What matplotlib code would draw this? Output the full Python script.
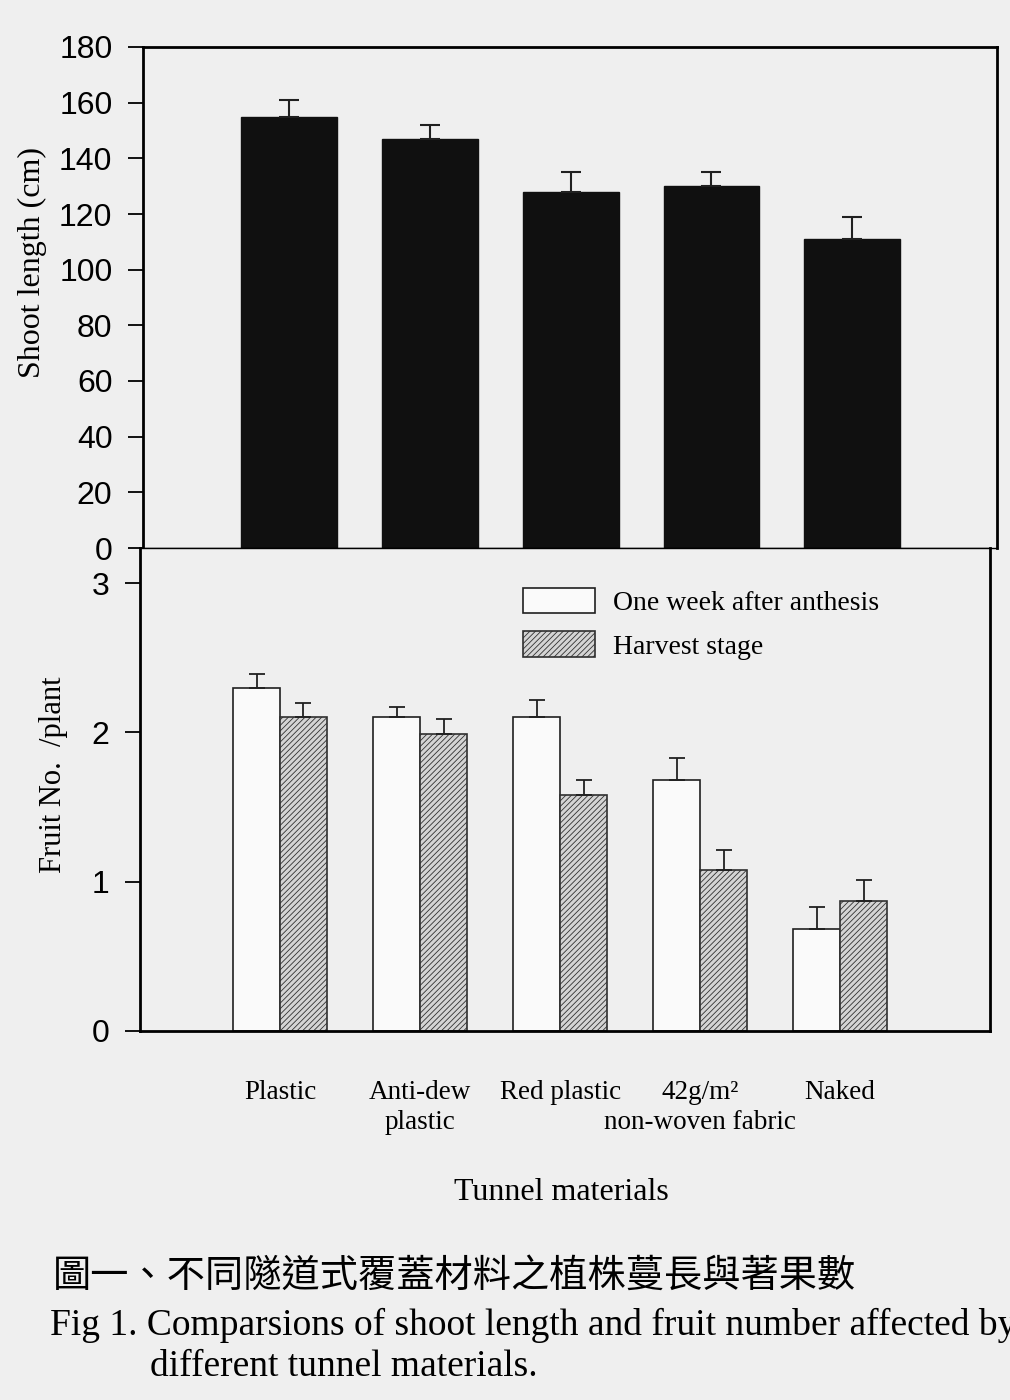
import numpy as np
import matplotlib
matplotlib.use("Agg")
import matplotlib.pyplot as plt

# ---------------------------------------------------------------------------
# Data
# ---------------------------------------------------------------------------
materials = ["Plastic", "Anti-dew\nplastic", "Red plastic",
             "42g/m\u00b2\nnon-woven fabric", "Naked"]
shoot_len = [155, 147, 128, 130, 111]
shoot_err = [6, 5, 7, 5, 8]

fruit_week = [2.30, 2.10, 2.10, 1.68, 0.68]
fruit_week_err = [0.09, 0.07, 0.12, 0.15, 0.15]
fruit_harv = [2.10, 1.99, 1.58, 1.08, 0.87]
fruit_harv_err = [0.10, 0.10, 0.10, 0.13, 0.14]

series_names = ["One week after anthesis", "Harvest stage"]

BG = "#efefef"
SERIF = "Liberation Serif"
SANS = "Liberation Sans"

plt.rcParams["hatch.color"] = "#7a7a7a"
plt.rcParams["hatch.linewidth"] = 0.6

fig = plt.figure(figsize=(10.1, 14), dpi=100, facecolor=BG)

L, R = 143 / 1010, 997 / 1010
ax_top = fig.add_axes([L, 1 - 548 / 1400, R - L, (548 - 47) / 1400])
ax_bot = fig.add_axes([L - 3 / 1010, 1 - 1031 / 1400, R - L - 4 / 1010, (1031 - 548) / 1400])

x = np.arange(len(materials))

# ---- Top panel: shoot length ----------------------------------------------
ax_top.set_facecolor(BG)
ax_top.bar(x, shoot_len, width=0.68, color="#101010", edgecolor="#101010",
           yerr=[np.zeros(len(x)), shoot_err], capsize=7,
           error_kw=dict(elinewidth=1.5, capthick=1.5, ecolor="#202020"))
ax_top.set_xlim(-1.04, 5.03)
ax_top.set_ylim(0, 180)
ax_top.set_yticks(range(0, 181, 20))
ax_top.set_xticks([])
ax_top.tick_params(axis="y", direction="out", length=11, width=1.3,
                   labelsize=23, pad=11)
for lab in ax_top.get_yticklabels():
    lab.set_family(SANS)
ax_top.set_ylabel("Shoot length (cm)", fontsize=23, family=SERIF)
ax_top.yaxis.set_label_coords(-96 / 854, 0.57)
for side in ["top", "left", "right"]:
    ax_top.spines[side].set_linewidth(2.0)
ax_top.spines["bottom"].set_linewidth(1.0)

# ---- Bottom panel: fruit number --------------------------------------------
ax_bot.set_facecolor(BG)
w = 0.335
ax_bot.bar(x - w / 2, fruit_week, width=w, color="#fafafa", edgecolor="#202020",
           linewidth=1.2, label=series_names[0],
           yerr=[np.zeros(len(x)), fruit_week_err], capsize=6,
           error_kw=dict(elinewidth=1.3, capthick=1.3, ecolor="#202020"))
ax_bot.bar(x + w / 2, fruit_harv, width=w, color="#d4d4d4", edgecolor="#303030",
           linewidth=1.2, hatch="//////", label=series_names[1],
           yerr=[np.zeros(len(x)), fruit_harv_err], capsize=6,
           error_kw=dict(elinewidth=1.3, capthick=1.3, ecolor="#202020"))
ax_bot.set_xlim(-1.0, 5.07)
ax_bot.set_ylim(0, 3.235)
ax_bot.set_yticks([0, 1, 2, 3])
ax_bot.tick_params(axis="y", direction="out", length=11, width=1.3,
                   labelsize=23, pad=11)
for lab in ax_bot.get_yticklabels():
    lab.set_family(SANS)

# first line of each category name as tick label, second line drawn below it
first_lines = [m.split("\n")[0] for m in materials]
ax_bot.set_xticks(x)
ax_bot.set_xticklabels(first_lines, fontsize=19.5, family=SERIF)
ax_bot.tick_params(axis="x", length=0, pad=35)
for xi, m in zip(x, materials):
    parts = m.split("\n")
    if len(parts) > 1:
        ax_bot.annotate(parts[1], xy=(xi, 0), xycoords=("data", "axes fraction"),
                        xytext=(0, -66), textcoords="offset points",
                        ha="center", va="center", fontsize=19.5, family=SERIF)

ax_bot.set_ylabel("Fruit No.  /plant", fontsize=22, family=SERIF)
ax_bot.yaxis.set_label_coords(-72 / 850, 0.53)
for side in ["bottom", "left", "right"]:
    ax_bot.spines[side].set_linewidth(2.0)
ax_bot.spines["top"].set_linewidth(1.0)

leg = ax_bot.legend(loc="upper left", bbox_to_anchor=(0.45, 0.918), frameon=False,
                    prop={"family": SERIF, "size": 20}, handlelength=2.6,
                    handleheight=1.05, handletextpad=0.65, labelspacing=0.55,
                    borderaxespad=0, borderpad=0)

# ---- Axis title and captions -----------------------------------------------
fig.text(561 / 1010, 1 - 1192 / 1400, "Tunnel materials", fontsize=23,
         family=SERIF, ha="center", va="center")
fig.text(53 / 1010, 1 - 1276 / 1400,
         "圖一、不同隧道式覆蓋材料之植株蔓長與著果數", fontsize=27.5,
         family=["Noto Sans CJK TC", "DejaVu Sans"], ha="left", va="center")
fig.text(50 / 1010, 1 - 1325 / 1400,
         "Fig 1. Comparsions of shoot length and fruit number affected by",
         fontsize=27, family=SERIF, ha="left", va="center")
fig.text(150 / 1010, 1 - 1367 / 1400, "different tunnel materials.",
         fontsize=27, family=SERIF, ha="left", va="center")

fig.savefig("out.png", dpi=100, facecolor=BG)
